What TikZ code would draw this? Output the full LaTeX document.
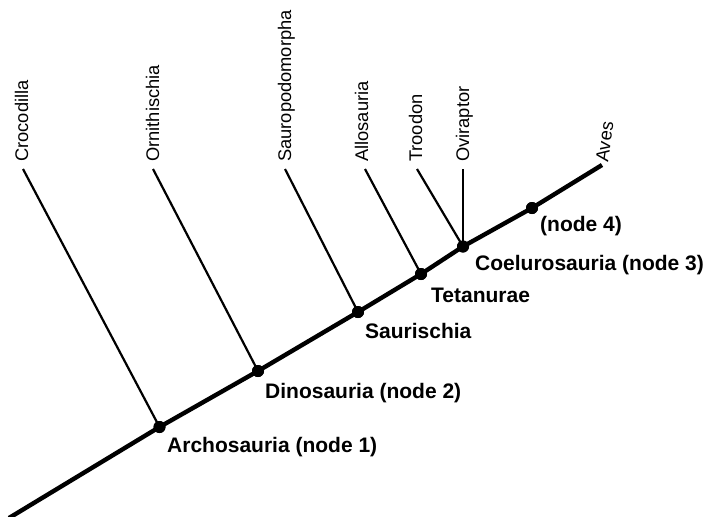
\documentclass[tikz,border=0pt]{standalone}
\usepackage{fontspec}
\setmainfont{Liberation Sans}
\begin{document}
\begin{tikzpicture}[x=1pt,y=-1pt,
  trunk/.style={line width=4.4pt},
  branch/.style={line width=2.2pt},
  dot/.style={circle,fill=black,inner sep=0pt,minimum size=12pt},
  clade/.style={anchor=base west,inner sep=0pt,font=\fontsize{21}{25}\selectfont\bfseries},
  leaflabel/.style={anchor=base west,inner sep=0pt,font=\fontsize{18.3}{22}\selectfont},
  taxon/.style={leaflabel,rotate=90}]
\useasboundingbox (0,0) rectangle (705,517);
% main trunk points
\coordinate (root) at (9,518);
\node[dot] (n1) at (159.5,427) {};
\node[dot] (n2) at (258,371) {};
\node[dot] (n3) at (358,312) {};
\node[dot] (n4) at (421,274) {};
\node[dot] (n5) at (463,246.5) {};
\node[dot] (n6) at (532,208) {};
\coordinate (aves) at (602,165);
% leaf tips
\coordinate (tC) at (23,169);
\coordinate (tO) at (153,169);
\coordinate (tS) at (285,169);
\coordinate (tA) at (365,169);
\coordinate (tT) at (417,169);
\coordinate (tV) at (463,169);
% trunk
\draw[trunk,line join=round] (root) -- (n1.center) -- (n2.center) -- (n3.center) -- (n4.center) -- (n5.center) -- (n6.center) -- (aves);
% branches
\draw[branch] (tC) -- (n1.center);
\draw[branch] (tO) -- (n2.center);
\draw[branch] (tS) -- (n3.center);
\draw[branch] (tA) -- (n4.center);
\draw[branch] (tT) -- (n5.center);
\draw[branch] (tV) -- (n5.center);
% dots on top
\foreach \n in {n1,n2,n3,n4,n5,n6} \fill (\n) circle (6pt);
% leaf labels
\node[taxon] (lC) at (28,162) {Crocodilla};
\node[taxon] (lO) at (159,162) {Ornithischia};
\node[taxon] (lS) at (291,162) {Sauropodomorpha};
\node[taxon] (lA) at (368,162) {Allosauria};
\node[taxon] (lT) at (422,162) {Troodon};
\node[taxon] (lV) at (469,162) {Oviraptor};
\node[leaflabel,rotate=82] (lAv) at (608,163) {Aves};
% clade labels
\node[clade] (c1) at (167,452) {Archosauria (node 1)};
\node[clade] (c2) at (265,398) {Dinosauria (node 2)};
\node[clade] (c3) at (365,338) {Saurischia};
\node[clade] (c4) at (431,302) {Tetanurae};
\node[clade] (c5) at (475,270) {Coelurosauria (node 3)};
\node[clade] (c6) at (540,231) {(node 4)};
\end{tikzpicture}
\end{document}
